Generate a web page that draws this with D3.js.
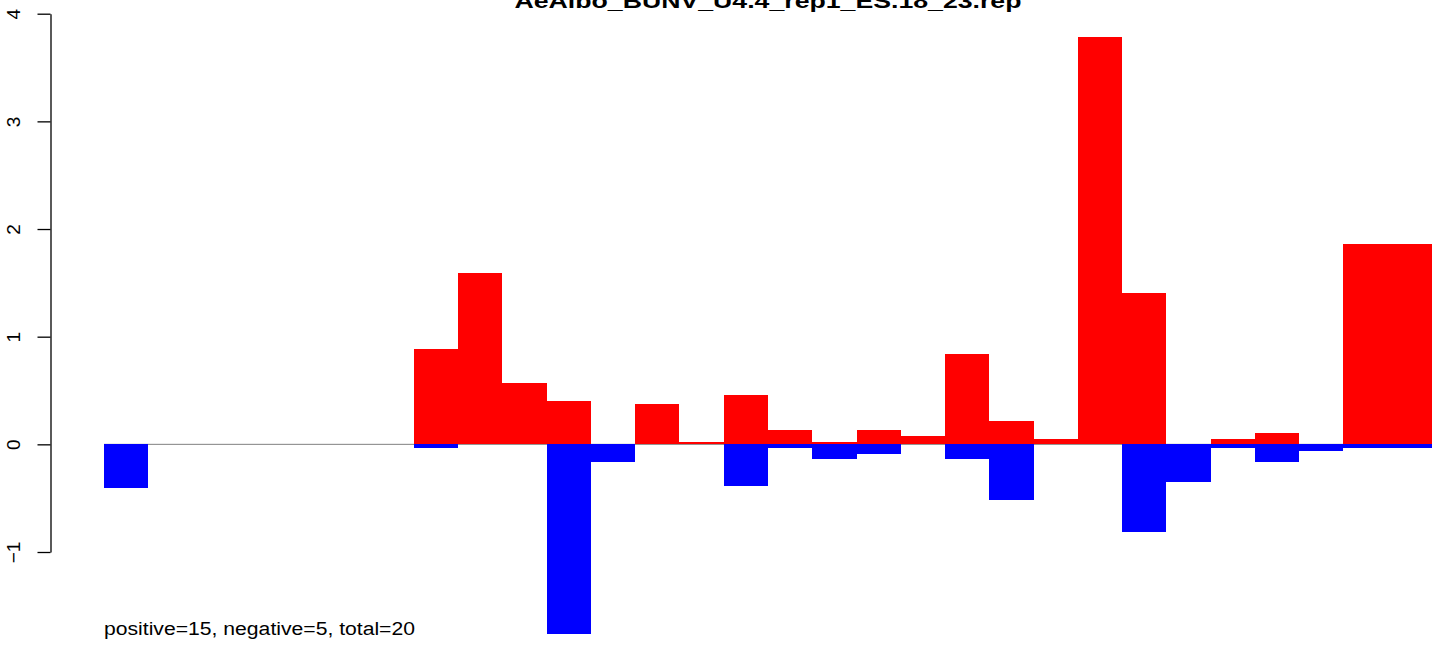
<!DOCTYPE html>
<html><head><meta charset="utf-8">
<script src="https://cdn.jsdelivr.net/npm/d3@7"></script>
<style>body{margin:0;background:#fff}svg{display:block}text{font-family:"Liberation Sans",Arial,Helvetica,sans-serif}</style>
</head><body>
<script>
const titleText = "AeAlbo_BUNV_U4.4_rep1_ES.18_23.rep";
const footerText = "positive=15, negative=5, total=20";
const slots = d3.range(1, 31);
const posValues = [0,0,0,0,0,0,0,0.89,1.59,0.57,0.40,0,0.374,0.02,0.458,0.133,0.02,0.133,0.077,0.838,0.216,0.049,3.78,1.41,0,0.049,0.105,0,1.86,1.86];
const negValues = [-0.41,0,0,0,0,0,0,-0.03,0,0,-1.76,-0.164,0,0,-0.387,-0.034,-0.134,-0.087,0,-0.136,-0.514,0,0,-0.814,-0.35,-0.03,-0.164,-0.062,-0.03,-0.03];
const yTicks = [-1,0,1,2,3,4];

const W = 1444, H = 645;
const svg = d3.select("body").append("svg").attr("width", W).attr("height", H);
const x = d3.scaleBand().domain(slots).range([104, 1432]).padding(0);
const y = d3.scaleLinear().domain([-1, 4]).range([552, 13.7]);

// zero line
svg.append("line").attr("x1", x.range()[0]).attr("x2", x.range()[1])
  .attr("y1", y(0)).attr("y2", y(0)).attr("stroke", "#808080").attr("stroke-width", 1);

svg.append("g").attr("shape-rendering", "crispEdges").selectAll("rect")
  .data(slots.map((s,i)=>({s,v:negValues[i]})).filter(d=>d.v<0))
  .join("rect").attr("x", d=>x(d.s)).attr("width", x.bandwidth())
  .attr("y", y(0)).attr("height", d=>y(d.v)-y(0)).attr("fill", "#0000ff");
svg.append("g").attr("shape-rendering", "crispEdges").selectAll("rect")
  .data(slots.map((s,i)=>({s,v:posValues[i]})).filter(d=>d.v>0))
  .join("rect").attr("x", d=>x(d.s)).attr("width", x.bandwidth())
  .attr("y", d=>y(d.v)).attr("height", d=>y(0)-y(d.v)).attr("fill", "#ff0000");

// axis
const ax = svg.append("g").attr("transform", "translate(50.5,0)")
  .call(d3.axisLeft(y).tickValues(yTicks).tickFormat(d=>d<0?"\u2212"+Math.abs(d):String(d)).tickSize(13).tickSizeOuter(0));
ax.select(".domain").attr("stroke", "#000").attr("stroke-width", 1.3);
ax.selectAll(".tick line").attr("stroke", "#000").attr("stroke-width", 1.3);
ax.selectAll(".tick text").attr("x", null).attr("dy", null)
  .attr("transform", "translate(-30.5,0) rotate(-90)")
  .attr("text-anchor", "middle").attr("font-size", 19).attr("fill", "#000");

// title
svg.append("text").attr("x", 768).attr("y", 8).attr("text-anchor", "middle")
  .attr("font-weight", "bold").attr("font-size", 20)
  .attr("textLength", 507).attr("lengthAdjust", "spacingAndGlyphs").text(titleText);
// footer
svg.append("text").attr("x", 104).attr("y", 635).attr("font-size", 18)
  .attr("textLength", 311).attr("lengthAdjust", "spacingAndGlyphs").text(footerText);
</script>
</body></html>
